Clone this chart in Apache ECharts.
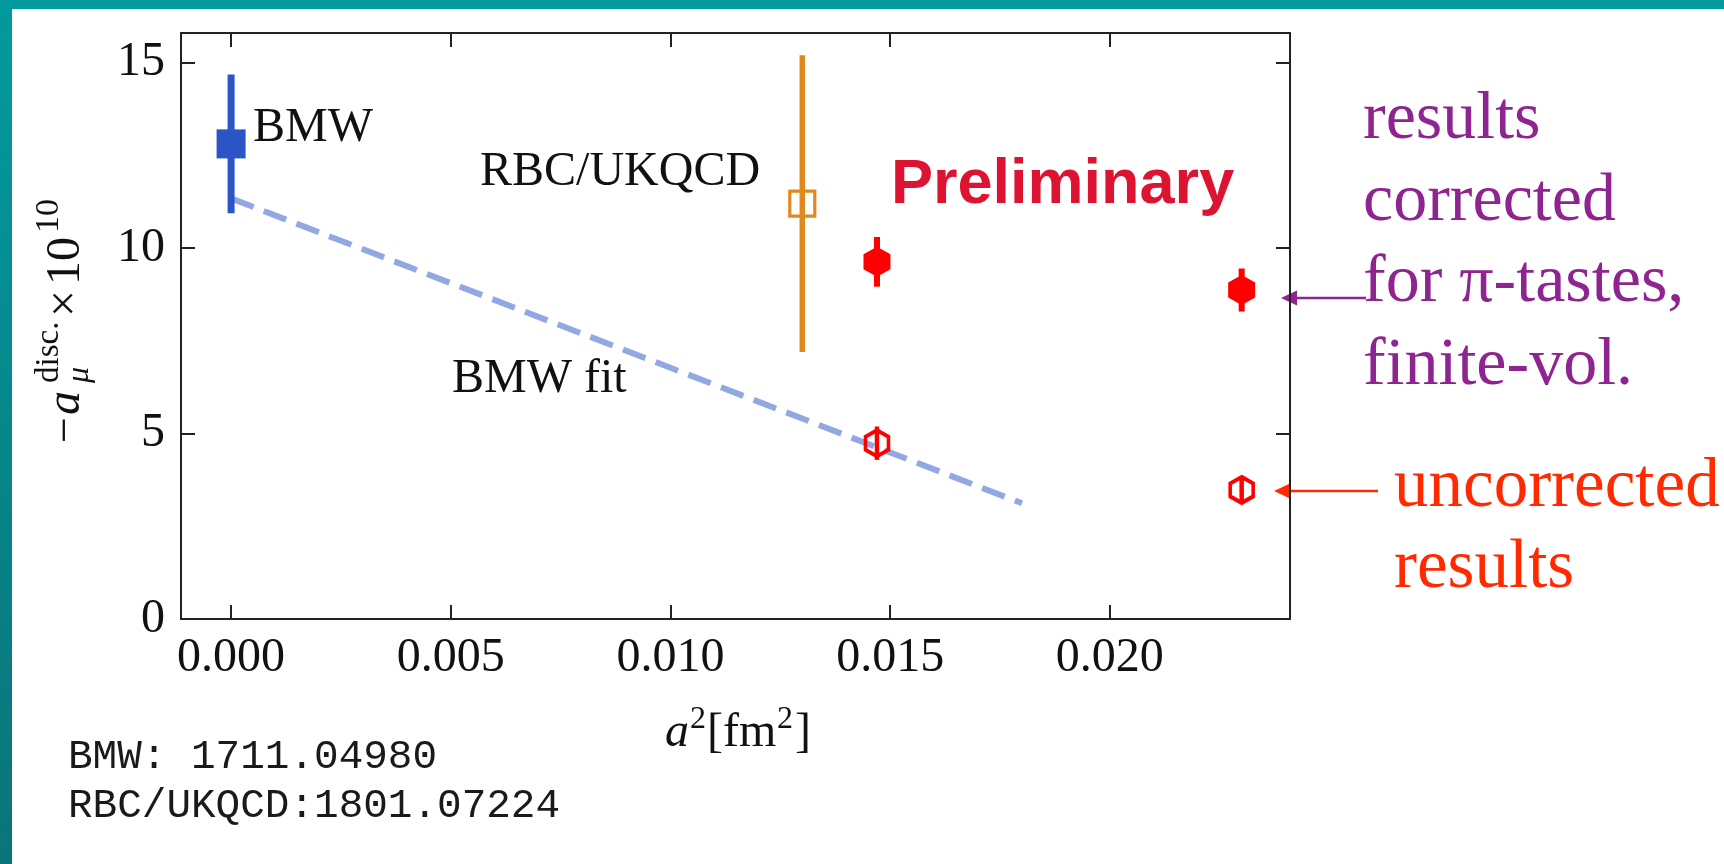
<!DOCTYPE html>
<html>
<head>
<meta charset="utf-8">
<title>a_mu disc</title>
<script src="https://cdn.jsdelivr.net/npm/echarts@6/dist/echarts.min.js"></script>
<style>
    html, body { margin: 0; padding: 0; background: #fff; }
    #chartDiv { width: 1724px; height: 864px; }
</style>
</head>
<body>
<div id="chartDiv"></div>
<script>
// tick positions
var xTicks = [0, 0.005, 0.010, 0.015, 0.020];
var yTicks = [0, 5, 10, 15];

// BMW continuum value
var bmwX = [0.0];
var bmwY = [12.81];
var bmwErr = [1.87];

// RBC/UKQCD
var rbcX = [0.0130];
var rbcY = [11.2];
var rbcErr = [4.0];

// corrected (filled hexagons)
var corrX = [0.0147, 0.0230];
var corrY = [9.63, 8.87];
var corrErr = [0.67, 0.58];

// uncorrected (open hexagons)
var uncorrX = [0.0147, 0.0230];
var uncorrY = [4.74, 3.48];
var uncorrErr = [0.45, 0.30];

// BMW fit line
var fitX = [0.0, 0.018];
var fitY = [11.34, 3.12];

var serif = 'Liberation Serif';
var blue = '#2b55c4';
var orange = '#e08a1e';
var red = '#ff0000';
var purple = '#8e2490';
var red2 = '#ff2a00';
var hexPath = 'path://M0,-10L8.66,-5L8.66,5L0,10L-8.66,5L-8.66,-5Z';

function pts(xs, ys) {
    return xs.map(function (x, i) { return [x, ys[i]]; });
}
function bars(xs, ys, es) {
    return xs.map(function (x, i) { return [x, ys[i] - es[i], ys[i] + es[i]]; });
}
function errSeries(data, color, width) {
    return {
        type: 'custom',
        silent: true,
        z: 3,
        data: data,
        encode: { x: 0, y: [1, 2] },
        renderItem: function (params, api) {
            var p1 = api.coord([api.value(0), api.value(1)]);
            var p2 = api.coord([api.value(0), api.value(2)]);
            return {
                type: 'line',
                shape: { x1: p1[0], y1: p1[1], x2: p2[0], y2: p2[1] },
                style: { stroke: color, lineWidth: width }
            };
        }
    };
}
// text placed by its baseline
function txt(x, base, s, size, color, more) {
    var st = {
        text: s, fill: color, fontFamily: serif, fontSize: size,
        align: 'left', textAlign: 'left', verticalAlign: 'middle', textVerticalAlign: 'middle'
    };
    if (more) { for (var k in more) st[k] = more[k]; }
    return { type: 'text', x: x, y: base - 0.34 * size, silent: true, style: st };
}

function axisX(pos, showLabel) {
    return {
        type: 'value', position: pos, min: -0.00114, max: 0.0241,
        axisLine: { show: true, onZero: false, lineStyle: { color: '#222', width: 2 } },
        axisTick: { show: true, inside: true, length: 14, customValues: xTicks, lineStyle: { color: '#222', width: 2 } },
        axisLabel: {
            show: showLabel, customValues: xTicks, margin: 15,
            fontFamily: serif, fontSize: 48, color: '#111',
            formatter: function (v) { return v.toFixed(3); }
        },
        splitLine: { show: false }
    };
}
function axisY(pos, showLabel) {
    return {
        type: 'value', position: pos, min: 0, max: 15.8,
        axisLine: { show: true, onZero: false, lineStyle: { color: '#222', width: 2 } },
        axisTick: { show: true, inside: true, length: 14, customValues: yTicks, lineStyle: { color: '#222', width: 2 } },
        axisLabel: {
            show: showLabel, customValues: yTicks, margin: 16,
            fontFamily: serif, fontSize: 48, color: '#111'
        },
        splitLine: { show: false }
    };
}

var option = {
    backgroundColor: '#fff',
    animation: false,
    grid: { left: 181, top: 33, right: 434, bottom: 245, containLabel: false },
    xAxis: [axisX('bottom', true), axisX('top', false)],
    yAxis: [axisY('left', true), axisY('right', false)],
    series: [
        {
            type: 'line', data: pts(fitX, fitY), symbol: 'none', silent: true, z: 1,
            lineStyle: { color: '#91a8e0', width: 6, type: [24, 11] }
        },
        errSeries(bars(bmwX, bmwY, bmwErr), blue, 7),
        errSeries(bars(rbcX, rbcY, rbcErr), orange, 5.5),
        errSeries(bars(corrX, corrY, corrErr), red, 6),
        errSeries(bars(uncorrX, uncorrY, uncorrErr), red, 4.5),
        {
            type: 'scatter', data: pts(bmwX, bmwY), symbol: 'rect', symbolSize: 29, z: 4, silent: true,
            itemStyle: { color: blue, opacity: 1 }
        },
        {
            type: 'scatter', data: pts(rbcX, rbcY), symbol: 'rect', symbolSize: 25, z: 4, silent: true,
            itemStyle: { color: 'rgba(0,0,0,0)', borderColor: orange, borderWidth: 3.2, opacity: 1 }
        },
        {
            type: 'scatter', data: pts(corrX, corrY), symbol: hexPath, symbolSize: [27, 30], z: 4, silent: true,
            itemStyle: { color: red, opacity: 1 }
        },
        {
            type: 'scatter', data: pts(uncorrX, uncorrY), symbol: hexPath, symbolSize: [23, 26], z: 4, silent: true,
            itemStyle: { color: 'rgba(0,0,0,0)', borderColor: red, borderWidth: 3.8, opacity: 1 }
        }
    ],
    graphic: [
        // teal slide frame
        { type: 'rect', silent: true, shape: { x: 0, y: 0, width: 1724, height: 9 }, style: { fill: '#029a9e' } },
        {
            type: 'rect', silent: true, shape: { x: 0, y: 0, width: 12, height: 864 },
            style: { fill: new echarts.graphic.LinearGradient(0, 0, 0, 1, [{ offset: 0, color: '#029a9e' }, { offset: 1, color: '#0a7479' }]) }
        },
        // y axis title
        {
            type: 'group', x: 83, y: 443, rotation: Math.PI / 2, silent: true,
            children: [
                txt(0, 0, '\u2212', 46, '#111'),
                txt(28, 0, 'a', 48, '#111', { fontStyle: 'italic' }),
                txt(60, -22, 'disc.', 33, '#111'),
                txt(60, 7, '\u03bc', 32, '#111', { fontStyle: 'italic' }),
                txt(126, 0, '\u00d7', 48, '#111'),
                txt(158, 0, '10', 48, '#111'),
                txt(210, -22, '10', 34, '#111')
            ]
        },
        // x axis title
        txt(665, 750, 'a', 48, '#111', { fontStyle: 'italic' }),
        txt(690, 730, '2', 32, '#111'),
        txt(707, 750, '[fm', 48, '#111'),
        txt(777, 730, '2', 32, '#111'),
        txt(795, 750, ']', 48, '#111'),
        // labels inside plot
        txt(253, 145, 'BMW', 48, '#111'),
        txt(480, 189, 'RBC/UKQCD', 48, '#111'),
        txt(452, 396, 'BMW fit', 48, '#111'),
        txt(891, 207, 'Preliminary', 63, '#dc1431', { fontFamily: 'Liberation Sans', fontWeight: 'bold' }),
        // right side notes
        txt(1363, 143, 'results', 68, purple),
        txt(1363, 225, 'corrected', 68, purple),
        txt(1363, 306, 'for \u03c0-tastes,', 68, purple),
        txt(1363, 389, 'finite-vol.', 68, purple),
        txt(1394, 511, 'uncorrected', 69, red2),
        txt(1394, 592, 'results', 69, red2),
        // arrows
        { type: 'line', silent: true, shape: { x1: 1294, y1: 298, x2: 1366, y2: 298 }, style: { stroke: purple, lineWidth: 2.5 } },
        { type: 'polygon', silent: true, shape: { points: [[1281, 298], [1297, 290.5], [1297, 305.5]] }, style: { fill: purple } },
        { type: 'line', silent: true, shape: { x1: 1287, y1: 491, x2: 1378, y2: 491 }, style: { stroke: red2, lineWidth: 2.5 } },
        { type: 'polygon', silent: true, shape: { points: [[1274, 491], [1290, 483.5], [1290, 498.5]] }, style: { fill: red2 } },
        // references
        txt(68, 771, 'BMW: 1711.04980', 41, '#1a1a1a', { fontFamily: 'Liberation Mono' }),
        txt(68, 820, 'RBC/UKQCD:1801.07224', 41, '#1a1a1a', { fontFamily: 'Liberation Mono' })
    ]
};

var myChart = echarts.init(document.getElementById('chartDiv'));
myChart.setOption(option);
</script>
</body>
</html>
